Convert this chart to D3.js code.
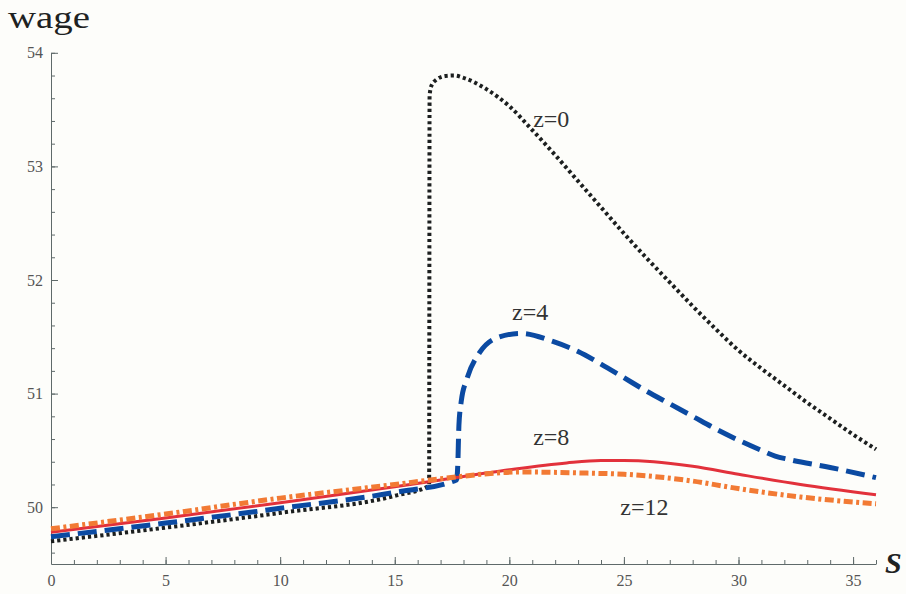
<!DOCTYPE html>
<html>
<head>
<meta charset="utf-8">
<script src="https://cdn.jsdelivr.net/npm/d3@7"></script>
<style>
  html, body { margin: 0; padding: 0; background: #fdfdfa; }
  svg { display: block; }
</style>
</head>
<body>
<svg id="chart"></svg>
<script>
// curve values (s, wage)
const sZ0 = [0, 5, 10, 15, 16.5, 16.52, 16.6, 16.8, 17.2, 17.6, 18, 19, 20, 21, 22, 23, 24, 25, 26, 27, 28, 29, 30, 31, 32, 33, 34, 35, 36];
const wZ0 = [49.70, 49.82, 49.95, 50.10, 50.19, 53.62, 53.71, 53.76, 53.795, 53.80, 53.78, 53.68, 53.53, 53.32, 53.10, 52.87, 52.64, 52.41, 52.19, 51.98, 51.77, 51.57, 51.38, 51.22, 51.07, 50.92, 50.78, 50.64, 50.51];

const sZ4 = [0, 5, 10, 15, 17.7, 17.75, 17.8, 17.9, 18.15, 18.7, 19.45, 20.5, 21.9, 23, 24, 25, 26, 27, 28, 29, 30, 31, 31.6, 32.2, 34, 36];
const wZ4 = [49.74, 49.86, 49.99, 50.13, 50.24, 50.37, 50.72, 50.93, 51.13, 51.36, 51.49, 51.53, 51.46, 51.37, 51.26, 51.14, 51.02, 50.91, 50.80, 50.69, 50.59, 50.50, 50.45, 50.42, 50.35, 50.26];

const sZ8 = [0, 5, 10, 15, 17, 20, 22.5, 24, 25, 26.3, 28, 30, 32.7, 36];
const wZ8 = [49.78, 49.905, 50.04, 50.18, 50.24, 50.33, 50.39, 50.41, 50.41, 50.40, 50.36, 50.29, 50.20, 50.11];

const sZ12 = [0, 5, 10, 15, 17, 20.5, 23.4, 25, 26.3, 28, 29.8, 32.7, 36];
const wZ12 = [49.81, 49.94, 50.08, 50.20, 50.25, 50.31, 50.30, 50.29, 50.27, 50.23, 50.17, 50.09, 50.03];

const xMajor = [0, 5, 10, 15, 20, 25, 30, 35];
const yMajor = [50, 51, 52, 53, 54];

// curve labels, placed in data units
const labelText = ["z=0", "z=4", "z=8", "z=12"];
const labelS = [21.04, 20.12, 21.04, 24.84];
const labelW = [53.35, 51.65, 50.55, 49.93];

const width = 906;
const height = 594;
const serif = "'Liberation Serif', 'DejaVu Serif', serif";

const svg = d3.select("#chart").attr("width", width).attr("height", height);

const x = d3.scaleLinear().domain([0, 36]).range([51, 876]);
const y = d3.scaleLinear().domain([49.5, 54]).range([564, 52.8]);

const axisColor = "#5f6a6a";

// minor ticks first, then major axis on top
svg.append("g")
  .attr("transform", `translate(0,${y(49.5)})`)
  .call(d3.axisBottom(x).tickValues(d3.range(0, 37, 1)).tickSize(-4).tickSizeOuter(0).tickFormat(""))
  .call(g => g.select(".domain").remove())
  .call(g => g.selectAll("line").attr("stroke", axisColor));

svg.append("g")
  .attr("transform", `translate(0,${y(49.5)})`)
  .call(d3.axisBottom(x).tickValues(xMajor).tickSize(-7).tickSizeOuter(0).tickPadding(11))
  .call(g => g.select(".domain").attr("stroke", axisColor))
  .call(g => g.selectAll("line").attr("stroke", axisColor))
  .call(g => g.selectAll("text").style("font-family", serif).attr("font-size", 16).attr("fill", "#555"));

svg.append("g")
  .attr("transform", `translate(${x(0)},0)`)
  .call(d3.axisLeft(y).tickValues(d3.range(49.6, 54.01, 0.2)).tickSize(-4).tickSizeOuter(0).tickFormat(""))
  .call(g => g.select(".domain").remove())
  .call(g => g.selectAll("line").attr("stroke", axisColor));

svg.append("g")
  .attr("transform", `translate(${x(0)},0)`)
  .call(d3.axisLeft(y).tickValues(yMajor).tickSize(-7).tickSizeOuter(0).tickPadding(8).tickFormat(d3.format("d")))
  .call(g => g.select(".domain").attr("stroke", axisColor))
  .call(g => g.selectAll("line").attr("stroke", axisColor))
  .call(g => g.selectAll("text").style("font-family", serif).attr("font-size", 16).attr("fill", "#555"));

// axis titles
svg.append("text")
  .attr("x", 8).attr("y", 28)
  .style("font-family", serif)
  .attr("font-size", 31)
  .attr("textLength", 82)
  .attr("lengthAdjust", "spacingAndGlyphs")
  .attr("fill", "#1e2222")
  .text("wage");

svg.append("text")
  .attr("x", 885).attr("y", 573)
  .style("font-family", serif)
  .attr("font-style", "italic")
  .attr("font-weight", "bold")
  .attr("font-size", 30)
  .attr("fill", "#1e2222")
  .text("S");

const line = d3.line()
  .x(d => x(d[0]))
  .y(d => y(d[1]))
  .curve(d3.curveMonotoneX);

const series = [
  { s: sZ0, w: wZ0, color: "#1c1f1f", width: 4, dash: "3.2,3" },
  { s: sZ4, w: wZ4, color: "#0b4aa2", width: 5, dash: "19,8" },
  { s: sZ8, w: wZ8, color: "#e2313b", width: 3, dash: null },
  { s: sZ12, w: wZ12, color: "#f27a34", width: 5, dash: "9,3.5,3,3.5" }
];

series.forEach(sr => {
  const pts = sr.s.map((v, i) => [v, sr.w[i]]);
  svg.append("path")
    .datum(pts)
    .attr("d", line)
    .attr("fill", "none")
    .attr("stroke", sr.color)
    .attr("stroke-width", sr.width)
    .attr("stroke-dasharray", sr.dash);
});

svg.selectAll(".zlabel")
  .data(labelText)
  .enter()
  .append("text")
  .attr("class", "zlabel")
  .attr("x", (d, i) => x(labelS[i]))
  .attr("y", (d, i) => y(labelW[i]))
  .style("font-family", serif)
  .attr("font-size", 24)
  .attr("fill", "#333")
  .text(d => d);
</script>
</body>
</html>
